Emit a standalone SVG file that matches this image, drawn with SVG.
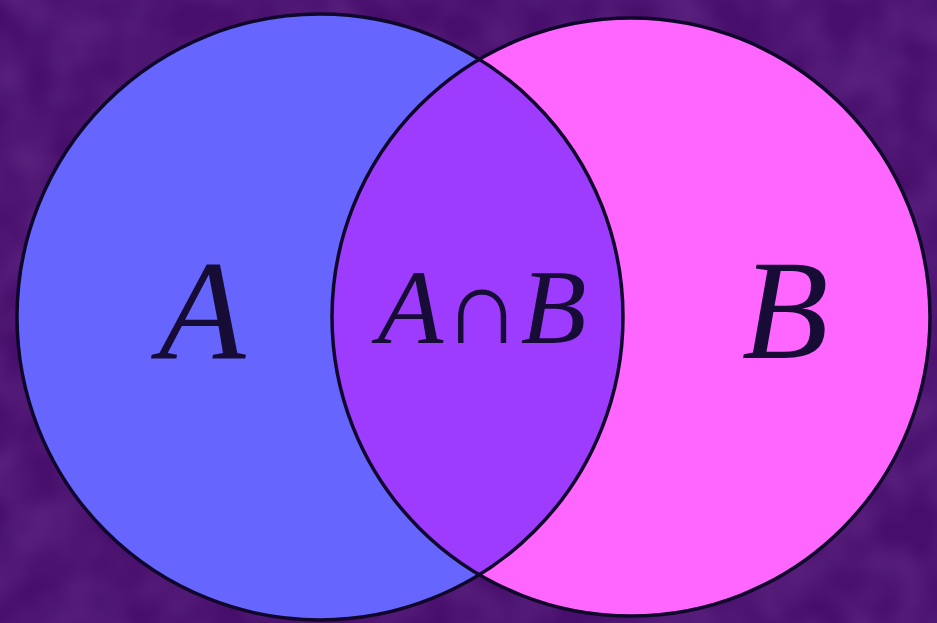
<svg xmlns="http://www.w3.org/2000/svg" width="937" height="623" viewBox="0 0 937 623">
  <defs>
    <style>
      .bg { fill: #470e6c; }
      .outline { fill: none; stroke: #10082a; stroke-width: 3.5; }
      .lbl { font-family: "Liberation Serif", "DejaVu Serif", serif; font-style: italic; fill: #160c36; }
      .cap { font-family: "Liberation Serif", "DejaVu Serif", serif; font-style: normal; }
    </style>
    <clipPath id="clipA">
      <circle cx="320" cy="317" r="303"/>
    </clipPath>
    <filter id="noise" x="0" y="0" width="100%" height="100%">
      <feTurbulence type="fractalNoise" baseFrequency="0.02" numOctaves="2" seed="7"/>
      <feColorMatrix type="matrix" values="0 0 0 0 0.38  0 0 0 0 0.16  0 0 0 0 0.55  0 0 0 0.35 -0.1"/>
    </filter>
  </defs>

  <g id="background">
    <rect class="bg" x="0" y="0" width="937" height="623"/>
    <rect x="0" y="0" width="937" height="623" filter="url(#noise)"/>
  </g>

  <g id="setA">
    <circle cx="320" cy="317" r="303" fill="#6666ff"/>
  </g>
  <g id="setB">
    <circle cx="631" cy="317" r="299" fill="#ff66ff"/>
  </g>
  <g id="intersection">
    <circle cx="631" cy="317" r="299" fill="#9d3bff" clip-path="url(#clipA)"/>
  </g>
  <g id="outlines">
    <circle class="outline" cx="320" cy="317" r="303"/>
    <circle class="outline" cx="631" cy="317" r="299"/>
  </g>

  <g id="labels">
    <text class="lbl" x="202" y="358" font-size="142" text-anchor="middle">A</text>
    <text class="lbl" x="482" y="343" font-size="106" text-anchor="middle" textLength="209" lengthAdjust="spacingAndGlyphs">A<tspan class="cap">∩</tspan>B</text>
    <text class="lbl" x="785" y="358" font-size="142" text-anchor="middle">B</text>
  </g>
</svg>
